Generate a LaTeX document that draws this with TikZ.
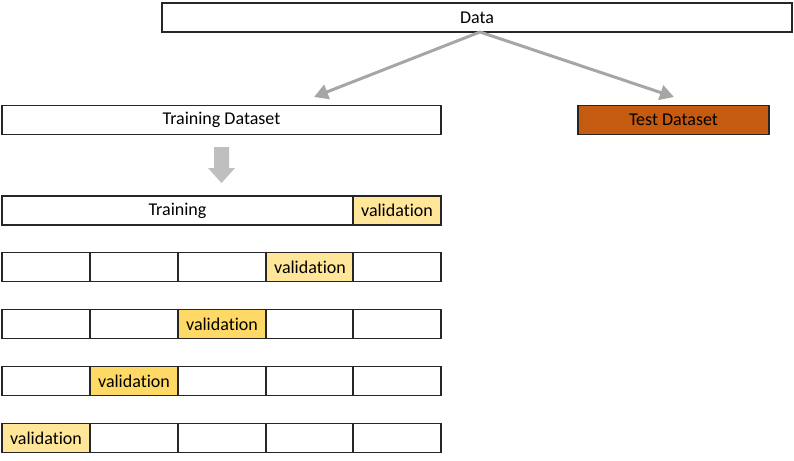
\documentclass[tikz,border=0pt]{standalone}
\usepackage{fontspec}
\setmainfont{Carlito}[Ligatures={NoCommon}]
\usetikzlibrary{arrows.meta}
\definecolor{vlight}{HTML}{FFE699}
\definecolor{vdark}{HTML}{FFD966}
\definecolor{testorange}{HTML}{C55A11}
\definecolor{arrowgray}{HTML}{A6A6A6}
\definecolor{blockgray}{HTML}{BFBFBF}
\definecolor{edge}{HTML}{262626}
\tikzset{
  box/.style={draw=edge, line width=1.1pt, fill=white, anchor=north west, inner sep=0pt, outer sep=0pt,
    minimum height=29pt, font=\fontsize{18}{21}\selectfont},
  cell/.style={box, minimum width=88pt},
  vcl/.style={cell, fill=vlight},
  vcd/.style={cell, fill=vdark},
  split/.style={draw=arrowgray, line width=3pt, -{Triangle[length=14pt,width=15pt]}},
}
\begin{document}
\begin{tikzpicture}[x=1pt,y=-1pt]
\useasboundingbox (0,0) rectangle (794,460);
% top
\node[box, minimum width=630pt] (data) at (162,3) {Data};
\node[box, minimum width=439pt] (train) at (2,105.5) {Training Dataset};
\node[box, minimum width=191pt, fill=testorange] (test) at (578,105.5) {Test Dataset};
\coordinate (src) at (480,32);
\coordinate (lt) at (314,97);
\coordinate (rt) at (674,97);
\draw[split] (src) -- (lt);
\draw[split] (src) -- (rt);
% block arrow
\fill[blockgray] (214,147) -- (229,147) -- (229,168) -- (235,168) -- (221.5,183) -- (208,168) -- (214,168) -- cycle;
% row 1
\node[box, minimum width=351pt] (r1t) at (2,196) {Training};
\node[box, minimum width=88pt, fill=vlight] (r1v) at (353,196) {validation};
% row 2
\node[cell] (r2a) at (2,252.5) {};
\node[cell] (r2b) at (90,252.5) {};
\node[cell] (r2c) at (178,252.5) {};
\node[vcl] (r2d) at (266,252.5) {validation};
\node[cell] (r2e) at (353,252.5) {};
% row 3
\node[cell] (r3a) at (2,309.5) {};
\node[cell] (r3b) at (90,309.5) {};
\node[vcd] (r3c) at (178,309.5) {validation};
\node[cell] (r3d) at (266,309.5) {};
\node[cell] (r3e) at (353,309.5) {};
% row 4
\node[cell] (r4a) at (2,366.5) {};
\node[vcd] (r4b) at (90,366.5) {validation};
\node[cell] (r4c) at (178,366.5) {};
\node[cell] (r4d) at (266,366.5) {};
\node[cell] (r4e) at (353,366.5) {};
% row 5
\node[vcl] (r5a) at (2,423.5) {validation};
\node[cell] (r5b) at (90,423.5) {};
\node[cell] (r5c) at (178,423.5) {};
\node[cell] (r5d) at (266,423.5) {};
\node[cell] (r5e) at (353,423.5) {};
\end{tikzpicture}
\end{document}
